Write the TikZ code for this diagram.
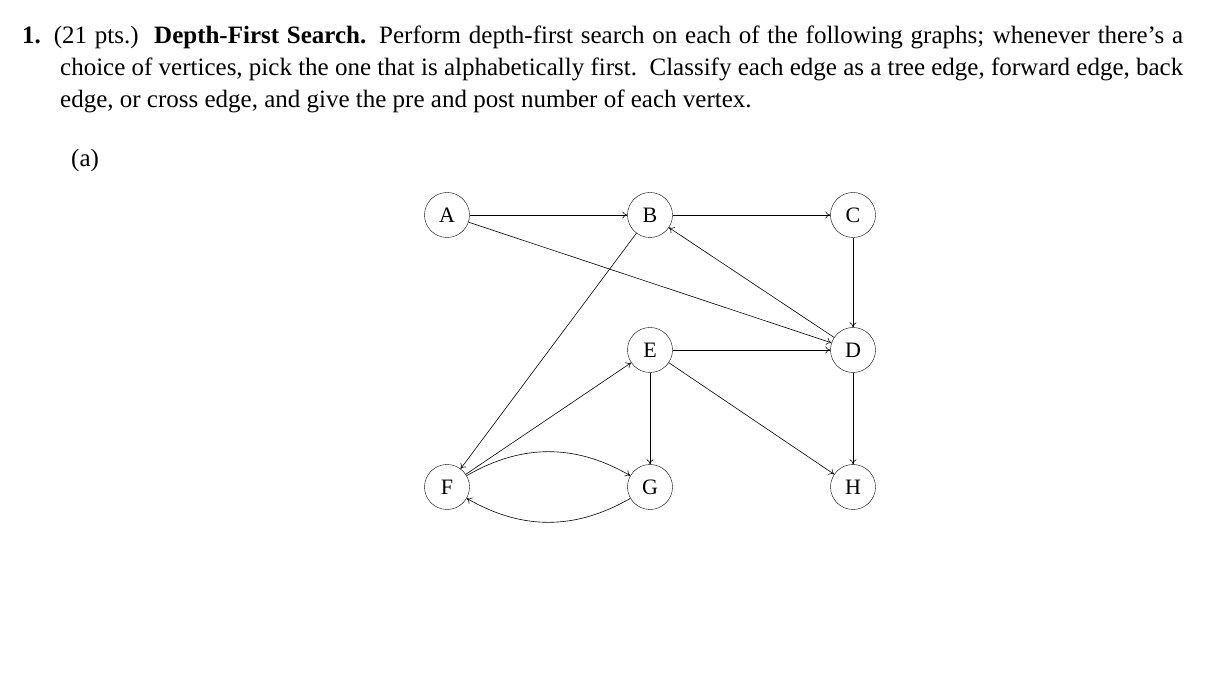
\documentclass[tikz,border=0pt]{standalone}
\usepackage{fontspec}
\setmainfont{Liberation Serif}
\usetikzlibrary{arrows.meta}
\begin{document}
\begin{tikzpicture}[x=1pt,y=-1pt,
  vert/.style={draw,circle,minimum size=45pt,inner sep=0pt,font=\fontsize{22}{26}\selectfont},
  edge/.style={draw,line width=0.6pt,-{To[length=5pt,width=7pt]}}]
\useasboundingbox (0,0) rectangle (1224,700);
\node[anchor=north west,inner sep=0pt,text width=1161pt,align=justify] (txt) at (22,26)
 {\fontsize{25}{32}\selectfont\hangindent=38pt\hangafter=1
 \textbf{1.} (21 pts.)\ \ \textbf{Depth-First Search.} Perform depth-first search on each of the following graphs; whenever there’s a choice of vertices, pick the one that is alphabetically first.\ \ Classify each edge as a tree edge, forward edge, back edge, or cross edge, and give the pre and post number of each vertex.\par};
\node[anchor=west,inner sep=0pt,font=\fontsize{25}{28}\selectfont] (lab) at (71,160) {(a)};
\node[vert] (A) at (447,215) {A};
\node[vert] (B) at (650,215) {B};
\node[vert] (C) at (853,215) {C};
\node[vert] (D) at (853,350) {D};
\node[vert] (E) at (650,350) {E};
\node[vert] (F) at (447,487) {F};
\node[vert] (G) at (650,487) {G};
\node[vert] (H) at (853,487) {H};
\draw[edge] (A) -- (B);
\draw[edge] (B) -- (C);
\draw[edge] (C) -- (D);
\draw[edge] (A) -- (D);
\draw[edge] (D) -- (B);
\draw[edge] (E) -- (D);
\draw[edge] (B) -- (F);
\draw[edge] (F) -- (E);
\draw[edge] (E) -- (G);
\draw[edge] (E) -- (H);
\draw[edge] (D) -- (H);
\draw[edge] (F) to[bend left=30] (G);
\draw[edge] (G) to[bend left=30] (F);
\end{tikzpicture}
\end{document}
